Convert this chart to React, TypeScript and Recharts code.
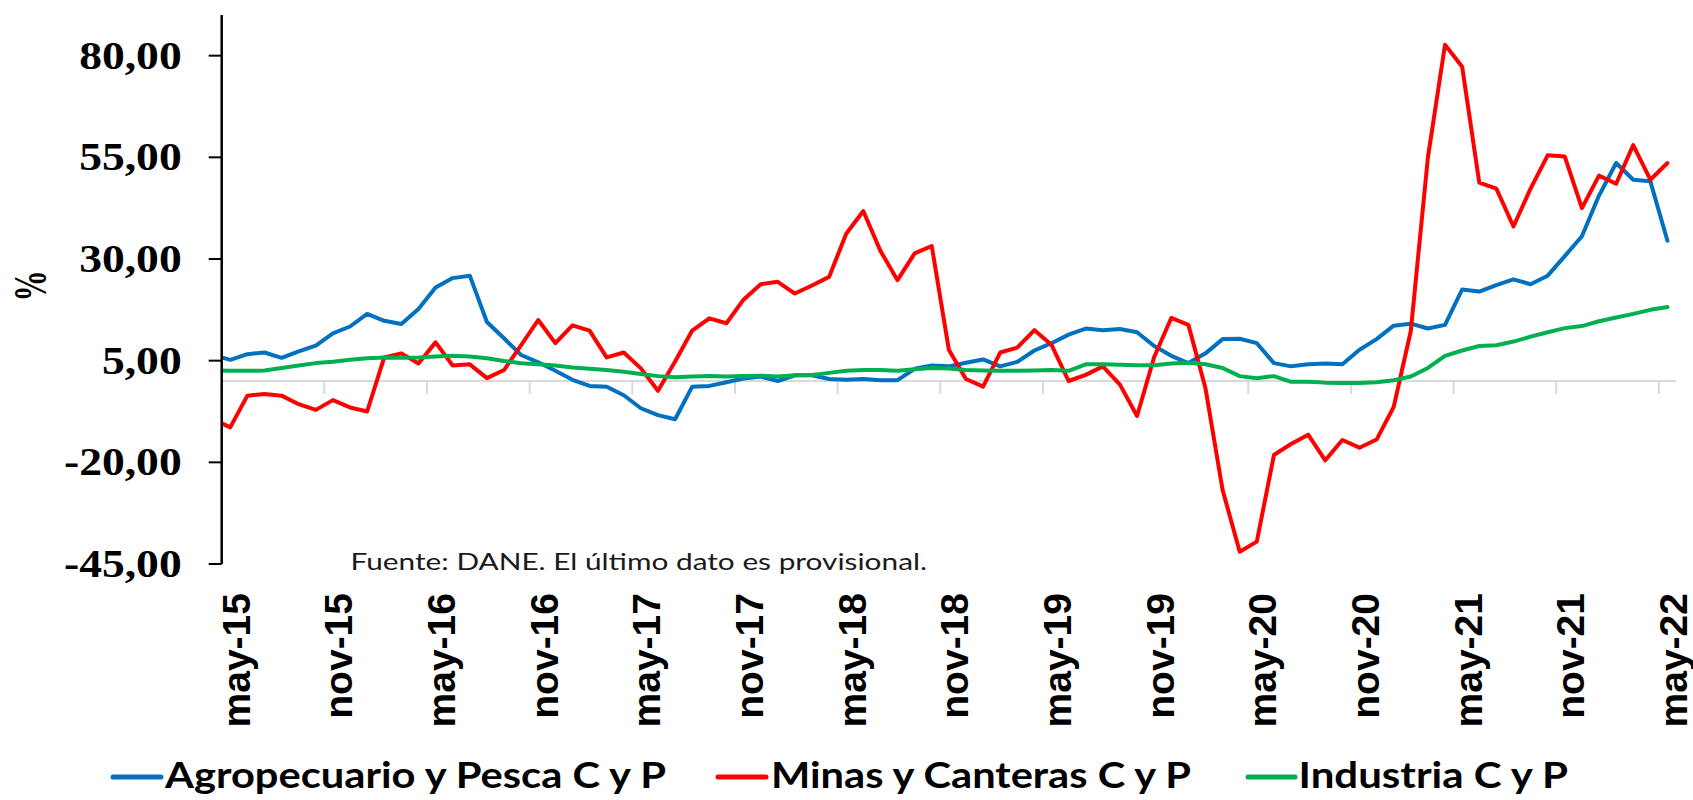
import { LineChart, Line, XAxis, YAxis, ReferenceLine } from "recharts";

// Monthly series, abr-15 .. may-22 (the first month sits just left of the plot and is clipped)
const months = [
  "abr-15", "may-15", "jun-15", "jul-15", "ago-15", "sep-15", "oct-15", "nov-15", "dic-15",
  "ene-16", "feb-16", "mar-16", "abr-16", "may-16", "jun-16", "jul-16", "ago-16", "sep-16", "oct-16", "nov-16", "dic-16",
  "ene-17", "feb-17", "mar-17", "abr-17", "may-17", "jun-17", "jul-17", "ago-17", "sep-17", "oct-17", "nov-17", "dic-17",
  "ene-18", "feb-18", "mar-18", "abr-18", "may-18", "jun-18", "jul-18", "ago-18", "sep-18", "oct-18", "nov-18", "dic-18",
  "ene-19", "feb-19", "mar-19", "abr-19", "may-19", "jun-19", "jul-19", "ago-19", "sep-19", "oct-19", "nov-19", "dic-19",
  "ene-20", "feb-20", "mar-20", "abr-20", "may-20", "jun-20", "jul-20", "ago-20", "sep-20", "oct-20", "nov-20", "dic-20",
  "ene-21", "feb-21", "mar-21", "abr-21", "may-21", "jun-21", "jul-21", "ago-21", "sep-21", "oct-21", "nov-21", "dic-21",
  "ene-22", "feb-22", "mar-22", "abr-22", "may-22",
];

const agro = [
  6.4, 5.2, 6.6, 7.0, 5.7, 7.3, 8.7, 11.7, 13.4,
  16.5, 14.8, 14.0, 17.7, 23.0, 25.3, 25.9, 14.5, 10.5, 6.4, 4.6, 2.5,
  0.3, -1.2, -1.4, -3.5, -6.7, -8.4, -9.4, -1.4, -1.2, -0.3, 0.6, 1.1,
  0.0, 1.4, 1.4, 0.5, 0.3, 0.5, 0.2, 0.2, 3.0, 3.8, 3.6, 4.5,
  5.3, 3.6, 4.7, 7.5, 9.3, 11.4, 12.9, 12.5, 12.8, 12.0, 8.6, 6.2,
  4.4, 6.8, 10.3, 10.4, 9.3, 4.4, 3.6, 4.1, 4.3, 4.1, 7.7, 10.3,
  13.6, 14.1, 12.9, 13.8, 22.5, 22.0, 23.6, 25.0, 23.8, 25.9, 30.7, 35.6,
  45.6, 53.6, 49.5, 49.1, 34.5,
];

const minas = [
  -9.4, -11.4, -3.6, -3.2, -3.6, -5.7, -7.1, -4.7, -6.5,
  -7.5, 5.8, 6.8, 4.3, 9.5, 3.8, 4.1, 0.7, 2.7, 8.8, 15.0, 9.3,
  13.7, 12.4, 5.8, 7.0, 3.1, -2.4, 4.8, 12.4, 15.4, 14.2, 20.0, 23.8,
  24.4, 21.5, 23.5, 25.6, 36.2, 41.8, 32.0, 24.8, 31.4, 33.2, 7.7, 0.5,
  -1.4, 7.0, 8.2, 12.5, 8.9, 0.0, 1.5, 3.6, -0.9, -8.6, 5.9, 15.5,
  13.8, -1.8, -26.8, -42.0, -39.5, -18.2, -15.5, -13.2, -19.5, -14.5, -16.4, -14.4,
  -6.4, 12.3, 55.0, 82.7, 77.3, 48.8, 47.3, 38.0, 47.3, 55.5, 55.2, 42.5,
  50.5, 48.5, 58.0, 49.5, 53.6,
];

const industria = [
  2.6, 2.5, 2.5, 2.6, 3.2, 3.8, 4.4, 4.75, 5.2,
  5.6, 5.8, 5.7, 5.8, 6.0, 6.2, 6.0, 5.6, 4.9, 4.35, 4.1, 3.8,
  3.3, 3.0, 2.7, 2.3, 1.7, 1.2, 0.9, 1.1, 1.2, 1.1, 1.2, 1.3,
  1.1, 1.4, 1.5, 2.0, 2.5, 2.7, 2.7, 2.5, 2.9, 3.2, 3.1, 2.7,
  2.6, 2.5, 2.5, 2.6, 2.7, 2.5, 4.1, 4.1, 4.0, 3.9, 3.9, 4.3,
  4.5, 4.1, 3.2, 1.2, 0.7, 1.2, -0.2, -0.2, -0.4, -0.5, -0.5, -0.3,
  0.2, 1.1, 3.2, 6.2, 7.5, 8.6, 8.8, 9.7, 10.9, 12.0, 13.0, 13.5,
  14.7, 15.6, 16.5, 17.5, 18.2,
];

const xTickLabels = [
  "may-15", "nov-15", "may-16", "nov-16", "may-17", "nov-17", "may-18", "nov-18",
  "may-19", "nov-19", "may-20", "nov-20", "may-21", "nov-21", "may-22",
];
const yTicks = [-45, -20, 5, 30, 55, 80];

const series = [
  { key: "agro", name: "Agropecuario y Pesca C y P", color: "#0070C0" },
  { key: "minas", name: "Minas y Canteras C y P", color: "#FF0000" },
  { key: "industria", name: "Industria C y P", color: "#00B050" },
];

const data = months.map((mes, i) => ({
  idx: i,
  mes,
  agro: agro[i],
  minas: minas[i],
  industria: industria[i],
}));

const xTicks = xTickLabels.map((m) => months.indexOf(m));
// grey tick marks sit on the category boundaries, half a month left of each label
const boundaries = xTicks.map((t) => t - 0.5);

const fmt = (v: number) => v.toFixed(2).replace(".", ",");

const XTick = ({ x, y, payload }: any) => (
  <g transform={`translate(${x + 19.5},${y}) rotate(-90)`}>
    <text
      textAnchor="end"
      fontFamily="'Liberation Sans', Arial, sans-serif"
      fontWeight={700}
      fontSize={39}
      fill="#000"
    >
      {months[payload.value]}
    </text>
  </g>
);

const YTick = ({ x, y, payload }: any) => (
  <g transform={`translate(${x},${y + 13})`}>
    <text
      textAnchor="end"
      transform="scale(1.14,1)"
      fontFamily="'Liberation Serif', 'Times New Roman', serif"
      fontWeight={700}
      fontSize={40}
      fill="#000"
    >
      {fmt(payload.value)}
    </text>
  </g>
);

const legendItems = [
  { ...series[0], x1: 113, x2: 161, tx: 165, tw: 501 },
  { ...series[1], x1: 718, x2: 766, tx: 771, tw: 420 },
  { ...series[2], x1: 1248, x2: 1295, tx: 1298.5, tw: 269.5 },
];

export default function App() {
  return (
    <div style={{ position: "absolute", left: 0, top: 0, width: 1693, height: 800, background: "#fff" }}>
      <LineChart
        width={1693}
        height={800}
        data={data}
        margin={{ top: 15, right: 17, bottom: 66, left: 0 }}
      >
        <XAxis
          dataKey="idx"
          type="number"
          domain={[0.5, 85.5]}
          allowDataOverflow
          ticks={xTicks}
          interval={0}
          axisLine={false}
          tickLine={false}
          tickSize={0}
          tickMargin={29}
          height={170}
          tick={<XTick />}
        />
        <YAxis
          type="number"
          domain={[-45, 90]}
          ticks={yTicks}
          interval={0}
          width={221.7}
          tickSize={13}
          tickMargin={27}
          axisLine={{ stroke: "#000", strokeWidth: 2.5 }}
          tickLine={{ stroke: "#000", strokeWidth: 2 }}
          tick={<YTick />}
        />
        <ReferenceLine y={0} stroke="#d9d9d9" strokeWidth={2} />
        {boundaries.map((b) => (
          <ReferenceLine
            key={b}
            segment={[{ x: b, y: 0 }, { x: b, y: -3.2 }]}
            stroke="#d9d9d9"
            strokeWidth={2}
          />
        ))}
        {series.map((s) => (
          <Line
            key={s.key}
            type="linear"
            dataKey={s.key}
            name={s.name}
            stroke={s.color}
            strokeWidth={4}
            strokeLinejoin="round"
            strokeLinecap="round"
            dot={false}
            isAnimationActive={false}
          />
        ))}
      </LineChart>
      <svg
        width={1693}
        height={800}
        style={{ position: "absolute", left: 0, top: 0, pointerEvents: "none" }}
      >
        <g transform="translate(46,286) rotate(-90)">
          <text
            textAnchor="middle"
            transform="scale(0.78,1.15)"
            fontFamily="'Liberation Serif', 'Times New Roman', serif"
            fontWeight={700}
            fontSize={40}
            fill="#000"
          >
            %
          </text>
        </g>
        <text
          x={350.5}
          y={570}
          textLength={576.5}
          lengthAdjust="spacingAndGlyphs"
          fontFamily="Lato, 'Open Sans', sans-serif"
          fontSize={23}
          fill="#1a1a1a"
        >
          Fuente: DANE. El último dato es provisional.
        </text>
        {legendItems.map((it) => (
          <g key={it.key}>
            <line x1={it.x1} x2={it.x2} y1={777} y2={777} stroke={it.color} strokeWidth={5} strokeLinecap="round" />
            <text
              x={it.tx}
              y={788}
              textLength={it.tw}
              lengthAdjust="spacingAndGlyphs"
              fontFamily="Lato, 'Open Sans', sans-serif"
              fontWeight={700}
              fontSize={37}
              fill="#000"
            >
              {it.name}
            </text>
          </g>
        ))}
      </svg>
    </div>
  );
}
